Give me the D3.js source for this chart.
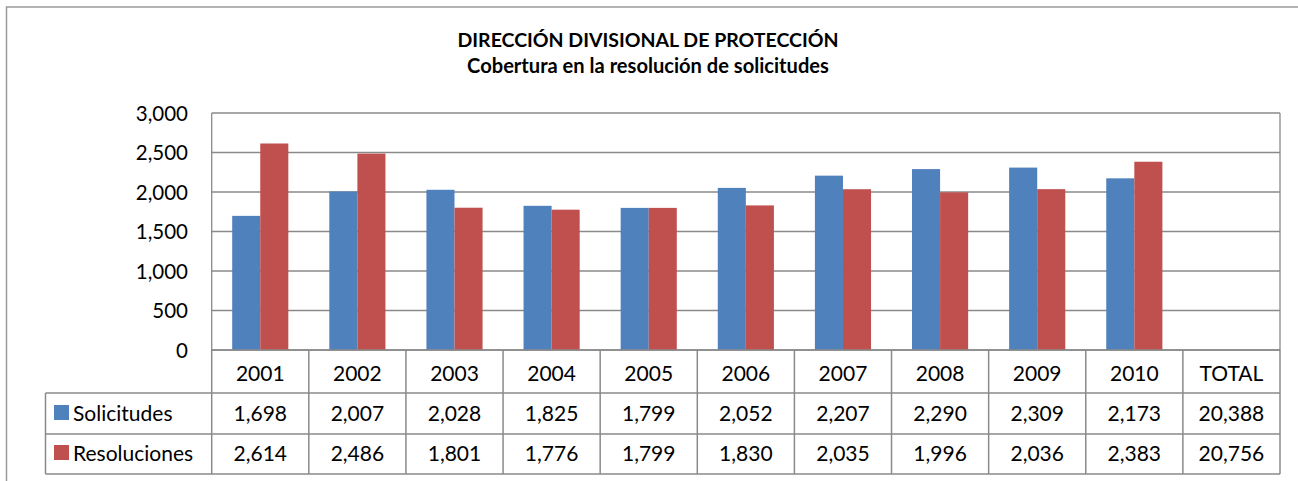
<!DOCTYPE html>
<html><head><meta charset="utf-8">
<script src="https://cdn.jsdelivr.net/npm/d3@7"></script>
<style>body{margin:0;background:#fff}svg{display:block;font-family:Lato,"Open Sans",sans-serif}</style>
</head><body>
<svg id="c" width="1298" height="481"></svg>
<script>
const categories = ["2001","2002","2003","2004","2005","2006","2007","2008","2009","2010"];
const totalLabel = "TOTAL";
const seriesNames = ["Solicitudes","Resoluciones"];
const solicitudes = [1698,2007,2028,1825,1799,2052,2207,2290,2309,2173];
const resoluciones = [2614,2486,1801,1776,1799,1830,2035,1996,2036,2383];
const totals = [20388,20756];
const yTicks = [0,500,1000,1500,2000,2500,3000];
const titleLines = ["DIRECCIÓN DIVISIONAL DE PROTECCIÓN","Cobertura en la resolución de solicitudes"];
const colors = ["#4F81BD","#C0504D"];

const svg = d3.select("#c");
const fmt = d3.format(",");
const gridCol = "#8a8a8a";

// outer chart border
svg.append("path").attr("d","M6.5,490 V7 H1310").attr("fill","none").attr("stroke","#9a9a9a").attr("stroke-width",1.5);

// title
svg.append("text").attr("x",648).attr("y",47).attr("text-anchor","middle")
  .attr("font-weight","bold").attr("font-size",19.5).text(titleLines[0]);
svg.append("text").attr("x",648).attr("y",73).attr("text-anchor","middle")
  .attr("font-weight","bold").attr("font-size",20.1).text(titleLines[1]);

const cols = categories.concat([totalLabel]);
const x = d3.scaleBand().domain(cols).range([211.7,1280]).paddingInner(0).paddingOuter(0);
const x1 = d3.scaleBand().domain(seriesNames).range([0,x.bandwidth()]).paddingInner(0).paddingOuter(0.73);
const y = d3.scaleLinear().domain([0,3000]).range([350,113]);

// gridlines
svg.append("g").selectAll("line").data(yTicks).join("line")
  .attr("x1",x.range()[0]).attr("x2",x.range()[1])
  .attr("y1",d=>y(d)).attr("y2",d=>y(d))
  .attr("stroke",gridCol).attr("stroke-width",1.3);
// plot border left & right
svg.append("line").attr("x1",x.range()[0]).attr("x2",x.range()[0]).attr("y1",y(3000)).attr("y2",y(0)).attr("stroke",gridCol).attr("stroke-width",1.3);
svg.append("line").attr("x1",x.range()[1]).attr("x2",x.range()[1]).attr("y1",y(3000)).attr("y2",y(0)).attr("stroke",gridCol).attr("stroke-width",1.3);

// y axis labels
const yAxis = d3.axisLeft(y).tickValues(yTicks).tickFormat(fmt).tickSize(0).tickPadding(0);
const ya = svg.append("g").attr("transform","translate(188,0)").call(yAxis);
ya.select(".domain").remove();
ya.selectAll("text").attr("font-size",20.5).attr("font-family","Lato,sans-serif").attr("fill","#000").attr("dy","0.36em");

// bars
const seriesData = [solicitudes, resoluciones];
seriesNames.forEach((s,si)=>{
  svg.append("g").selectAll("rect").data(categories.map((c,i)=>({c,v:seriesData[si][i]}))).join("rect")
    .attr("x",d=>x(d.c)+x1(s)).attr("width",x1.bandwidth())
    .attr("y",d=>y(d.v)).attr("height",d=>y(0)-y(d.v))
    .attr("fill",colors[si]);
});

// data table
const rowTop = [350,393,434,474];
const tblLeft = 45.5;
const tg = svg.append("g").attr("stroke",gridCol).attr("stroke-width",1.5).attr("fill","none");
tg.append("line").attr("x1",x.range()[0]).attr("x2",x.range()[1]).attr("y1",rowTop[0]).attr("y2",rowTop[0]);
[1,2,3].forEach(r=>tg.append("line").attr("x1",tblLeft).attr("x2",x.range()[1]).attr("y1",rowTop[r]).attr("y2",rowTop[r]));
cols.forEach(c=>tg.append("line").attr("x1",x(c)).attr("x2",x(c)).attr("y1",rowTop[0]).attr("y2",rowTop[3]));
tg.append("line").attr("x1",x.range()[1]).attr("x2",x.range()[1]).attr("y1",rowTop[0]).attr("y2",rowTop[3]);
tg.append("line").attr("x1",tblLeft).attr("x2",tblLeft).attr("y1",rowTop[1]).attr("y2",rowTop[3]);

const tt = svg.append("g").attr("font-size",21).attr("fill","#000");
tt.selectAll("text.h").data(cols).join("text").attr("class","h")
  .attr("x",d=>x(d)+x.bandwidth()/2).attr("y",381).attr("text-anchor","middle").text(d=>d);
const rowVals = [solicitudes.concat([totals[0]]), resoluciones.concat([totals[1]])];
const baseY = [421,461];
rowVals.forEach((vals,ri)=>{
  tt.append("g").selectAll("text").data(vals).join("text")
    .attr("x",(d,i)=>x(cols[i])+x.bandwidth()/2).attr("y",baseY[ri]).attr("text-anchor","middle").text(d=>fmt(d));
  svg.append("rect").attr("x",54).attr("y",baseY[ri]-16).attr("width",15).attr("height",15).attr("fill",colors[ri]);
  tt.append("text").attr("x",73).attr("y",baseY[ri]).text(seriesNames[ri]);
});
</script>
</body></html>
